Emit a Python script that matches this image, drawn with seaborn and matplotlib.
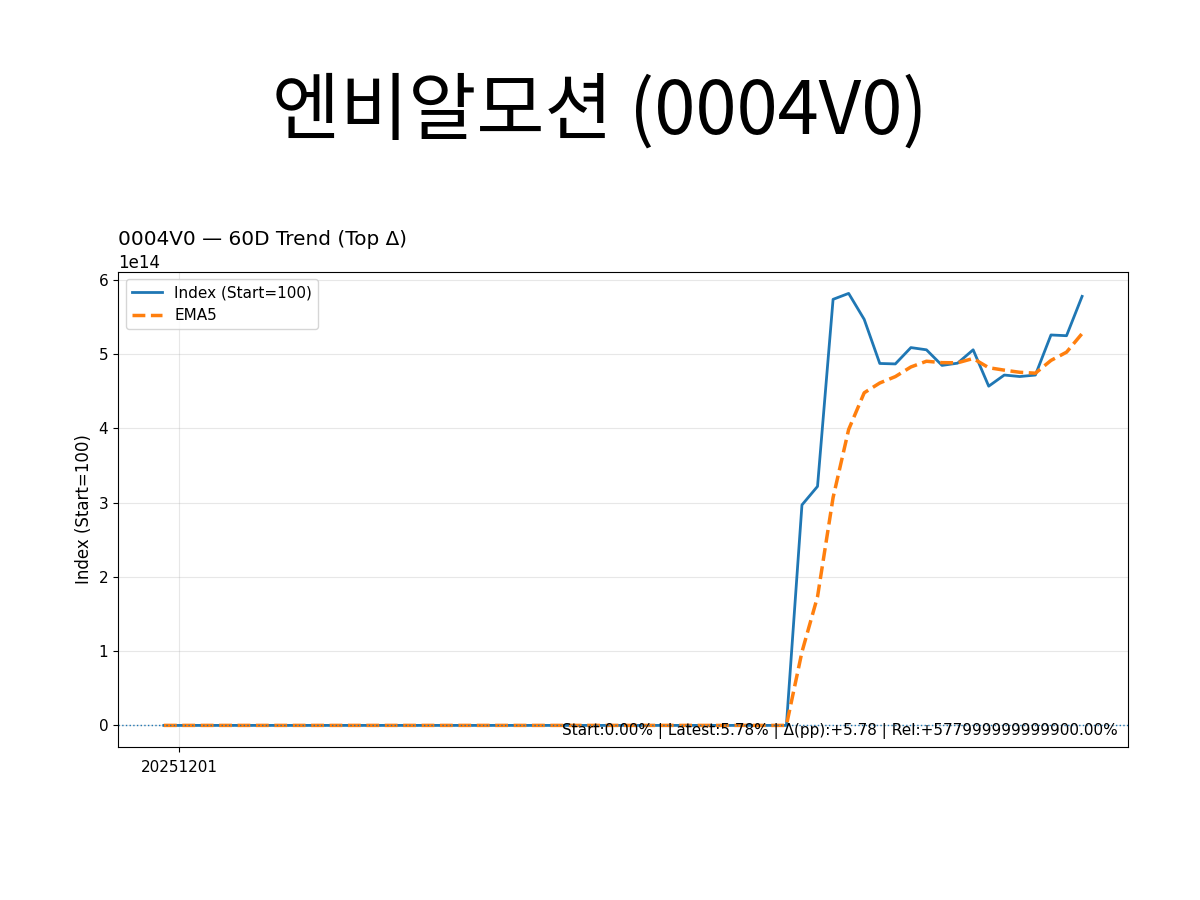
import matplotlib
matplotlib.use("Agg")
import matplotlib.pyplot as plt
import pandas as pd
import seaborn as sns

# 60 trading days, first tick on 20251201
DATES = (
    ["20251128"]
    + [f"202512{d:02d}" for d in [1, 2, 3, 4, 5, 8, 9, 10, 11, 12, 15, 16, 17, 18, 19, 22, 23, 24, 26, 29, 30]]
    + [f"202601{d:02d}" for d in [2, 5, 6, 7, 8, 9, 12, 13, 14, 15, 16, 19, 20, 21, 22, 23, 26, 27, 28, 29, 30]]
    + [f"202602{d:02d}" for d in [2, 3, 4, 5, 6, 9, 10, 11, 12, 13, 16, 17, 18, 19, 20, 23, 24]]
)

# index values (start = 100); the jump puts the last value near 5.78e14
INDEX_HEAD = [100.0] * 41
INDEX_TAIL_E14 = [2.97, 3.22, 5.74, 5.82, 5.47, 4.876, 4.87, 5.09, 5.06, 4.85,
                  4.88, 5.06, 4.57, 4.72, 4.70, 4.72, 5.26, 5.25, 5.78]
EMA_HEAD = [100.0] * 41
EMA_TAIL_E14 = [0.99, 1.733, 3.069, 3.986, 4.481, 4.613, 4.699, 4.829, 4.906, 4.887,
                4.885, 4.943, 4.819, 4.786, 4.757, 4.745, 4.917, 5.028, 5.279]

TICKER = "0004V0"
NAME = "엔비알모션"
NOTE = "Start:0.00% | Latest:5.78% | Δ(pp):+5.78 | Rel:+577999999999900.00%"


def setup_style() -> None:
    plt.rcParams["font.family"] = ["DejaVu Sans", "Noto Sans CJK KR"]
    plt.rcParams["axes.unicode_minus"] = False
    plt.rcParams["font.size"] = 12
    plt.rcParams["axes.labelsize"] = 12
    plt.rcParams["xtick.labelsize"] = 11
    plt.rcParams["ytick.labelsize"] = 11
    plt.rcParams["xtick.major.pad"] = 5.5
    plt.rcParams["legend.fontsize"] = 11


def main() -> None:
    setup_style()

    df = pd.DataFrame({
        "Date": DATES[:60],
        "Index": INDEX_HEAD + [v * 1e14 for v in INDEX_TAIL_E14],
        "EMA5": EMA_HEAD + [v * 1e14 for v in EMA_TAIL_E14],
    })
    df["pos"] = range(len(df))

    fig = plt.figure(figsize=(12, 9), dpi=100)
    ax = fig.add_axes([0.0983, 0.17, 0.8417, 0.528])

    sns.lineplot(data=df, x="pos", y="Index", ax=ax, color="#1f77b4", linewidth=2,
                 label="Index (Start=100)")
    sns.lineplot(data=df, x="pos", y="EMA5", ax=ax, color="#ff7f0e", linewidth=2.5,
                 linestyle="--", label="EMA5")
    ax.axhline(100, color="#1f77b4", linestyle=":", linewidth=1)

    ticks = [i for i, d in enumerate(df["Date"]) if d.endswith("01")]
    ax.set_xticks(ticks)
    ax.set_xticklabels([df["Date"][i] for i in ticks])
    ax.set_xlabel("")
    ax.set_ylabel("Index (Start=100)")
    ax.set_title(f"{TICKER} — 60D Trend (Top Δ)", loc="left")
    ax.yaxis.get_offset_text().set_fontsize(12)
    ax.grid(True, alpha=0.3)
    ax.legend(loc="upper left")
    ax.text(0.99, 0.016, NOTE, transform=ax.transAxes, ha="right", va="bottom", fontsize=11)

    fig.suptitle(f"{NAME} ({TICKER})", fontsize=53.3, family="Noto Sans CJK KR", y=0.917)
    fig.savefig("out.png")
    plt.close(fig)


if __name__ == "__main__":
    main()
